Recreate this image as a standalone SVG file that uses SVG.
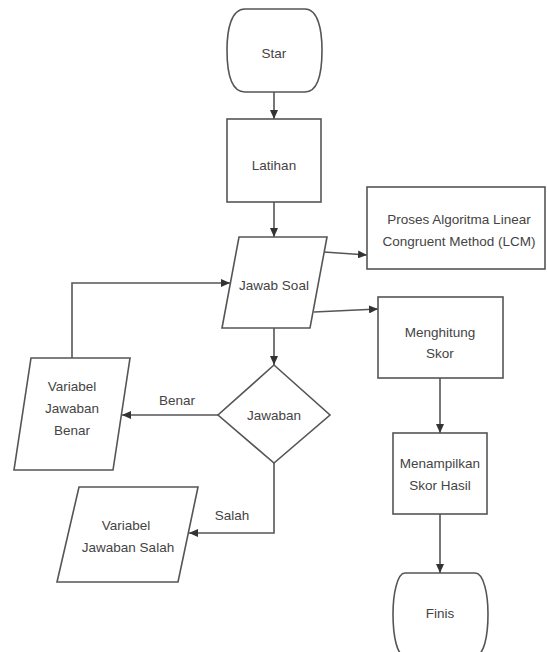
<svg xmlns="http://www.w3.org/2000/svg" width="547" height="652" viewBox="0 0 547 652">
<defs>
<marker id="ah" markerWidth="10" markerHeight="8" refX="9" refY="4" orient="auto" markerUnits="userSpaceOnUse">
<path d="M0,0 L9,4 L0,8 Z" fill="#333"/>
</marker>
<style>
.s{fill:#fff;stroke:#555;stroke-width:1.6}
.t{font-family:"Liberation Sans",Arial,sans-serif;font-size:13.5px;fill:#444;text-anchor:middle;dominant-baseline:central}
.c{fill:none;stroke:#555;stroke-width:1.6;marker-end:url(#ah)}
.l{font-family:"Liberation Sans",Arial,sans-serif;font-size:13.5px;fill:#444;text-anchor:middle;dominant-baseline:central}
</style>
</defs>
<rect width="547" height="652" fill="#fff"/>
<g id="connectors">
<path class="c" d="M274,92 L274,119"/>
<path class="c" d="M274,202 L274,237"/>
<path class="c" d="M324,252 L367,255"/>
<path class="c" d="M314,312 L378,309"/>
<path class="c" d="M274,328 L274,365"/>
<path class="c" d="M218,415 L122,415"/>
<path class="c" d="M274,463 L274,533 L189,533"/>
<path class="c" d="M72,358 L72,283 L230,283"/>
<path class="c" d="M440,378 L440,433"/>
<path class="c" d="M440,514 L440,573"/>
<text class="l" x="177" y="400">Benar</text>
<text class="l" x="232" y="515">Salah</text>
</g>
<g id="start">
<path class="s" d="M245,9 L305,9 C318,9 322,30 322,50 C322,72 318,92 305,92 L245,92 C231,92 227,72 227,50 C227,30 231,9 245,9 Z"/>
<text class="t" x="274" y="53">Star</text>
</g>
<g id="latihan">
<rect class="s" x="227" y="119" width="94" height="83"/>
<text class="t" x="274" y="165">Latihan</text>
</g>
<g id="jawab-soal">
<path class="s" d="M239,237 L327,237 L310,328 L222,328 Z"/>
<text class="t" x="274" y="285">Jawab Soal</text>
</g>
<g id="lcm">
<rect class="s" x="367" y="187" width="178" height="82"/>
<text class="t" x="459" y="219">Proses Algoritma Linear</text>
<text class="t" x="459" y="241">Congruent Method (LCM)</text>
</g>
<g id="menghitung">
<rect class="s" x="378" y="297" width="125" height="81"/>
<text class="t" x="440" y="332">Menghitung</text>
<text class="t" x="440" y="353">Skor</text>
</g>
<g id="menampilkan">
<rect class="s" x="393" y="433" width="94" height="81"/>
<text class="t" x="440" y="463">Menampilkan</text>
<text class="t" x="440" y="485">Skor Hasil</text>
</g>
<g id="finis">
<path class="s" d="M405,573 L475,573 C484,573 488,595 488,614 C488,636 484,656 475,656 L405,656 C397,656 393,636 393,614 C393,595 397,573 405,573 Z"/>
<text class="t" x="440" y="613">Finis</text>
</g>
<g id="jawaban">
<path class="s" d="M274,365 L330,415 L274,463 L218,415 Z"/>
<text class="t" x="274" y="415">Jawaban</text>
</g>
<g id="var-benar">
<path class="s" d="M31,358 L130,358 L113,470 L14,470 Z"/>
<text class="t" x="72" y="386">Variabel</text>
<text class="t" x="72" y="408">Jawaban</text>
<text class="t" x="72" y="430">Benar</text>
</g>
<g id="var-salah">
<path class="s" d="M79,487 L198,487 L178,582 L57,582 Z"/>
<text class="t" x="126" y="525">Variabel</text>
<text class="t" x="128" y="547">Jawaban Salah</text>
</g>
</svg>
